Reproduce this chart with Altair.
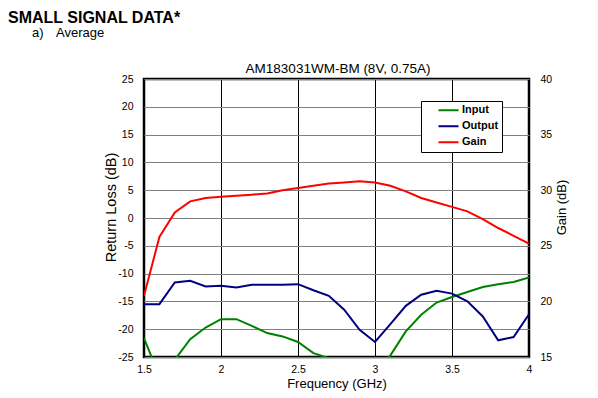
import altair as alt
import pandas as pd

freq = [1.5, 1.6, 1.7, 1.8, 1.9, 2.0, 2.1, 2.2, 2.3, 2.4, 2.5, 2.6, 2.7,
        2.8, 2.9, 3.0, 3.1, 3.2, 3.3, 3.4, 3.5, 3.6, 3.7, 3.8, 3.9, 4.0]
input_rl = [-21.6, -28.5, -25.5, -21.8, -19.7, -18.2, -18.2, -19.4, -20.7, -21.3, -22.3, -24.3, -25.2,
            -26.5, -27.5, -28.0, -24.7, -20.4, -17.4, -15.2, -14.2, -13.3, -12.4, -11.9, -11.5, -10.7]
output_rl = [-15.5, -15.5, -11.6, -11.3, -12.3, -12.2, -12.5, -12.0, -12.0, -12.0, -11.9, -13.0, -14.0,
             -16.5, -20.1, -22.3, -19.1, -15.8, -13.8, -13.1, -13.6, -15.0, -17.7, -22.0, -21.4, -17.3]
gain_db = [20.5, 25.8, 28.0, 29.0, 29.3, 29.4, 29.5, 29.6, 29.7, 30.0, 30.2, 30.4, 30.6,
           30.7, 30.8, 30.7, 30.4, 29.9, 29.3, 28.9, 28.5, 28.1, 27.4, 26.6, 25.9, 25.2]
series = ["Input", "Output", "Gain"]
colors = ["#008000", "#000080", "#ff0000"]
x_ticks = [1.5, 2, 2.5, 3, 3.5, 4]
rl_ticks = [-25, -20, -15, -10, -5, 0, 5, 10, 15, 20, 25]
gain_ticks = [15, 20, 25, 30, 35, 40]
chart_title = "AM183031WM-BM (8V, 0.75A)"
header_text = "SMALL SIGNAL DATA*"
sub_label = "a)"
sub_text = "Average"

n = len(freq)
rl_df = pd.DataFrame({"freq": freq * 2, "val": input_rl + output_rl,
                      "series": ["Input"] * n + ["Output"] * n})
gain_df = pd.DataFrame({"freq": freq, "val": gain_db, "series": ["Gain"] * n})

FONT = "Liberation Sans"

xenc = alt.X("freq:Q", scale=alt.Scale(domain=[1.5, 4], nice=False, zero=False),
             axis=alt.Axis(values=x_ticks, labelExpr="'' + datum.value", title="Frequency (GHz)",
                           grid=True, gridColor="black", gridWidth=1, gridOpacity=1,
                           labelPadding=7, titlePadding=3, labelFlush=False))

color = alt.Color("series:N", scale=alt.Scale(domain=series, range=colors),
                  legend=alt.Legend(title=None, orient="none", legendX=277, legendY=22,
                                    direction="vertical",
                                    strokeColor="black", fillColor="white", padding=3,
                                    symbolType="M0.3,0H2.3", symbolSize=400, symbolStrokeWidth=2.2,
                                    symbolFillColor="transparent",
                                    clipHeight=12.5, labelOffset=15, rowPadding=3,
                                    labelFontSize=11, labelFontWeight="bold", labelFont=FONT,
                                    labelColor="black"))

rl_layer = alt.Chart(rl_df).mark_line(clip=True, strokeWidth=2).encode(
    x=xenc,
    y=alt.Y("val:Q", scale=alt.Scale(domain=[-25, 25], nice=False, zero=False),
            axis=alt.Axis(values=rl_ticks, labelExpr="'' + datum.value", title="Return Loss (dB)",
                          orient="left", grid=True, gridColor="#808080", gridWidth=1.2, gridOpacity=1,
                          labelPadding=11, titleX=-26, titleY=128, titleFontSize=14.5)),
    color=color,
)

gain_layer = alt.Chart(gain_df).mark_line(clip=True, strokeWidth=2).encode(
    x=xenc,
    y=alt.Y("val:Q", scale=alt.Scale(domain=[15, 40], nice=False, zero=False),
            axis=alt.Axis(values=gain_ticks, labelExpr="'' + datum.value", title="Gain (dB)",
                          orient="right", grid=False, labelPadding=11,
                          titleAngle=-90, titleBaseline="bottom", titleX=39, titleY=128)),
    color=color,
)

def label(txt, xv, yv, size, weight="normal", align="left"):
    return alt.Chart(pd.DataFrame({"t": [txt]})).mark_text(
        align=align, baseline="alphabetic", font=FONT, fontSize=size, fontWeight=weight, color="black"
    ).encode(x=alt.value(xv), y=alt.value(yv), text="t:N")

header = label(header_text, -136, -56, 16, "bold")
sub_a = label(sub_label, -112, -42, 13)
sub_b = label(sub_text, -88, -42, 13)
title = label(chart_title, 194, -6, 13.5, align="center")

chart = alt.layer(rl_layer, gain_layer, header, sub_a, sub_b, title).resolve_scale(
    y="independent"
).properties(
    width=385, height=278,
    autosize=alt.AutoSizeParams(type="none"),
    padding={"left": 136, "top": 71, "right": 61, "bottom": 35},
).configure_view(
    stroke="black", strokeWidth=2.5
).configure_axis(
    domain=False, ticks=False, labelFont=FONT, labelFontSize=10.5, labelColor="black",
    titleFont=FONT, titleFontSize=13, titleFontWeight="normal", titleColor="black"
)

chart.save("out.html", embed_options={"renderer": "svg", "actions": False})
